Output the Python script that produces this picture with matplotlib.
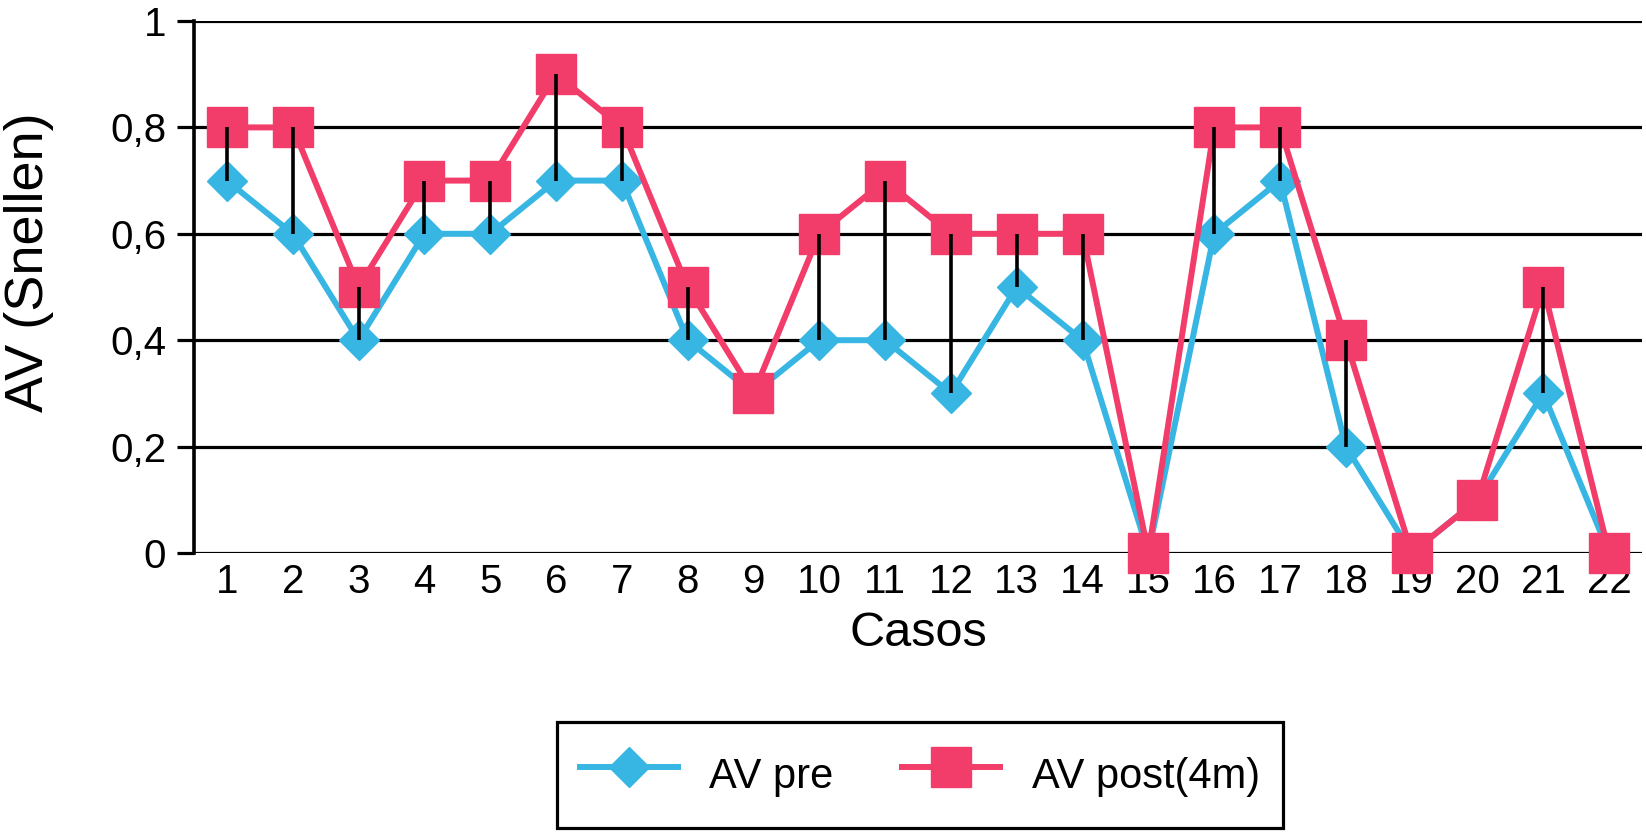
import matplotlib
matplotlib.use("Agg")
import matplotlib.pyplot as plt

plt.rcParams['font.family'] = ['Liberation Sans', 'DejaVu Sans']

cases = list(range(1, 23))
av_pre = [0.7, 0.6, 0.4, 0.6, 0.6, 0.7, 0.7, 0.4, 0.3, 0.4, 0.4,
          0.3, 0.5, 0.4, 0.0, 0.6, 0.7, 0.2, 0.0, 0.1, 0.3, 0.0]
av_post = [0.8, 0.8, 0.5, 0.7, 0.7, 0.9, 0.8, 0.5, 0.3, 0.6, 0.7,
           0.6, 0.6, 0.6, 0.0, 0.8, 0.8, 0.4, 0.0, 0.1, 0.5, 0.0]
y_ticks = [0, 0.2, 0.4, 0.6, 0.8, 1]
y_labels = ["0", "0,2", "0,4", "0,6", "0,8", "1"]

blue = '#38B6E3'
pink = '#F23D6A'

W, H = 1646, 833
fig = plt.figure(figsize=(W / 100, H / 100), dpi=100)
ax = fig.add_axes([194 / W, 1 - 553 / H, (1642 - 194) / W, (553 - 21) / H])

# horizontal grid lines, drawn as plain black rules
for y in y_ticks:
    ax.axhline(y, color='black', lw=2.3, zorder=1)

ax.plot(cases, av_pre, color=blue, lw=4.3, marker='D', ms=20,
        label='AV pre', zorder=3, clip_on=False)
ax.plot(cases, av_post, color=pink, lw=4.3, marker='s', ms=29,
        label='AV post(4m)', zorder=4, clip_on=False)
# high-low lines between pre and post
ax.vlines(cases, av_pre, av_post, color='black', lw=2.6, zorder=5)

ax.set_xlim(0.5, 22.5)
ax.set_ylim(0, 1)
ax.set_xticks(cases)
ax.set_xticklabels([str(c) for c in cases])
ax.set_yticks(y_ticks)
ax.set_yticklabels(y_labels)
ax.tick_params(axis='x', length=0, pad=7, labelsize=29)
ax.tick_params(axis='y', length=12, width=2.3, pad=8, labelsize=29)
for s in ['top', 'right', 'bottom']:
    ax.spines[s].set_visible(False)
ax.spines['left'].set_linewidth(2.6)

fig.text(918 / W, 1 - 634 / H, 'Casos', fontsize=35, ha='center', va='center')
fig.text(29 / W, 1 - 262 / H, 'AV (Snellen)', fontsize=39, ha='center',
         va='center', rotation=90)

leg = fig.legend(loc='center', bbox_to_anchor=(920 / W, 1 - 775 / H), ncol=2,
                 fontsize=30, handlelength=2.35, handletextpad=0.75,
                 columnspacing=1.65, borderpad=0.55, handleheight=1.85,
                 fancybox=False, framealpha=1, edgecolor='black')
leg.get_frame().set_linewidth(2.3)

fig.savefig('out.png', dpi=100)
